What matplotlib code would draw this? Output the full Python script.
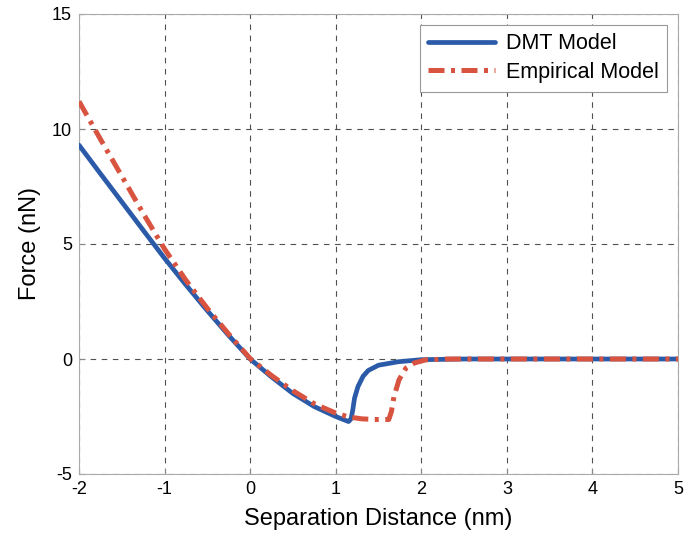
import matplotlib
matplotlib.use("Agg")
import matplotlib.pyplot as plt

plt.rcParams['font.family'] = ['Liberation Sans', 'DejaVu Sans']

# DMT model (blue)
dmt_x = [-2.0, -1.75, -1.5, -1.25, -1.0, -0.75, -0.5, -0.25, 0.0, 0.25, 0.5, 0.75, 1.0,
         1.15, 1.18, 1.2, 1.22, 1.26, 1.32, 1.38, 1.5, 1.73, 2.0, 2.5, 5.0]
dmt_y = [9.3, 8.06, 6.83, 5.6, 4.38, 3.22, 2.1, 1.02, 0.0, -0.78, -1.5, -2.07, -2.5,
         -2.72, -2.6, -2.2, -1.7, -1.2, -0.75, -0.5, -0.27, -0.12, -0.03, 0.0, 0.0]

# Empirical model (red)
emp_x = [-2.0, -1.75, -1.5, -1.25, -1.0, -0.75, -0.5, -0.25, 0.0, 0.25, 0.5, 0.75, 1.0,
         1.15, 1.3, 1.45, 1.62, 1.65, 1.68, 1.74, 1.82, 1.92, 2.05, 2.3, 5.0]
emp_y = [11.2, 9.56, 7.95, 6.33, 4.78, 3.42, 2.2, 1.08, 0.02, -0.72, -1.38, -1.95, -2.35,
         -2.52, -2.6, -2.63, -2.63, -2.3, -1.65, -0.9, -0.4, -0.17, -0.04, 0.0, 0.0]

xticks = [-2, -1, 0, 1, 2, 3, 4, 5]
yticks = [-5, 0, 5, 10, 15]

fig = plt.figure(figsize=(6.88, 5.43), dpi=100)
ax = fig.add_axes([79/688, 69/543, 599/688, 460/543])

ax.plot(dmt_x, dmt_y, color='#2b5ba8', lw=3.4, solid_capstyle='round',
        solid_joinstyle='round', label='DMT Model', zorder=3)
ax.plot(emp_x, emp_y, color='#d95440', lw=3.6, dashes=(3.2, 1.3, 0.8, 1.3),
        label='Empirical Model', zorder=4)

ax.set_xlim(-2, 5)
ax.set_ylim(-5, 15)
ax.set_xticks(xticks)
ax.set_yticks(yticks)
ax.set_xticklabels([str(t) for t in xticks])
ax.set_yticklabels([str(t) for t in yticks])
ax.grid(True, color='#505050', linestyle=(0, (5, 5)), lw=0.8)
ax.tick_params(direction='in', length=4, color='#888888', labelsize=13, pad=5)
for s in ax.spines.values():
    s.set_color('#aaaaaa')
    s.set_linewidth(0.8)

ax.set_xlabel('Separation Distance (nm)', fontsize=17, labelpad=7)
ax.set_ylabel('Force (nN)', fontsize=17, labelpad=8)

leg = ax.legend(loc='upper right', fontsize=15.5, handlelength=3.1, labelspacing=0.35,
                fancybox=False, framealpha=1, edgecolor='#999999', borderaxespad=0.5,
                handletextpad=0.5, borderpad=0.4)
leg.get_frame().set_linewidth(0.8)

fig.savefig('out.png', dpi=100)
